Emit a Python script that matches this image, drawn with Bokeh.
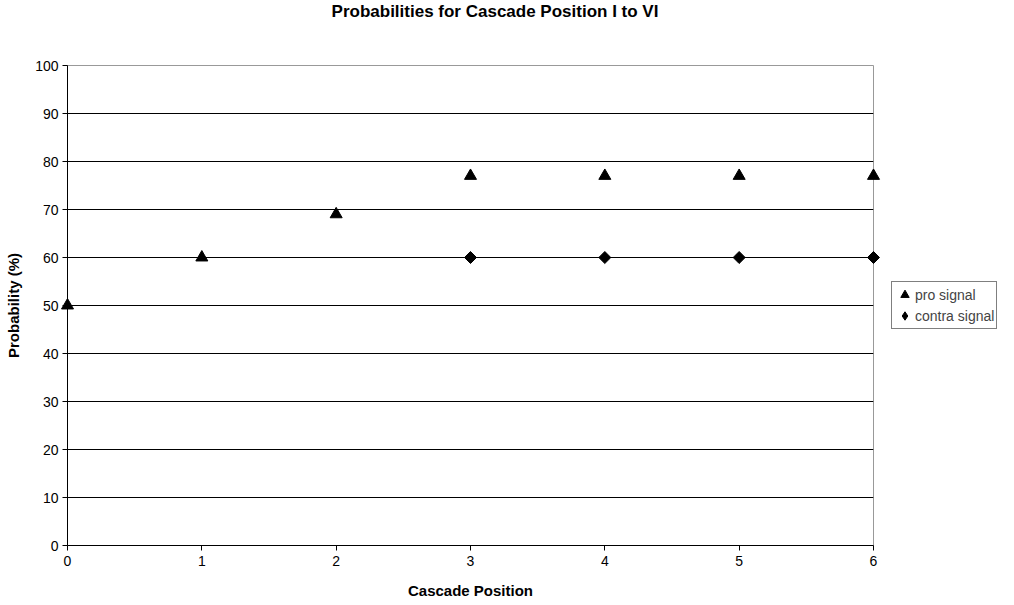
import math
from bokeh.plotting import figure
from bokeh.models import Range1d, FixedTicker, Legend, LegendItem, Div
from bokeh.layouts import column
from bokeh.embed import file_html
from bokeh.resources import INLINE

positions = [0, 1, 2, 3, 4, 5, 6]
pro_signal = [50, 60, 69, 77, 77, 77, 77]
contra_x = [3, 4, 5, 6]
contra_signal = [60, 60, 60, 60]
y_ticks = [0, 10, 20, 30, 40, 50, 60, 70, 80, 90, 100]
x_ticks = [0, 1, 2, 3, 4, 5, 6]
title_text = "Probabilities for Cascade Position I to VI"

FONT = "Liberation Sans"

title_div = Div(text=title_text, width=990, height=24, margin=0,
                styles={"font-family": FONT, "font-size": "17px", "font-weight": "bold",
                        "text-align": "center", "color": "black", "width": "990px",
                        "line-height": "24px"})

p = figure(frame_width=806, frame_height=480, output_backend="svg", toolbar_location=None,
           x_range=Range1d(0, 6), y_range=Range1d(0, 100), title=None,
           min_border_left=67, min_border_right=10, min_border_top=41, min_border_bottom=52)

p.outline_line_color = "#999999"
p.outline_line_width = 1

for ax in (p.xaxis[0], p.yaxis[0]):
    ax.axis_line_color = "black"
    ax.major_tick_line_color = "black"
    ax.major_tick_in = 0
    ax.major_tick_out = 5
    ax.minor_tick_line_color = None
    ax.major_label_text_font = FONT
    ax.major_label_text_font_size = "14px"
    ax.major_label_text_color = "black"
    ax.axis_label_text_font = FONT
    ax.axis_label_text_font_size = "15px"
    ax.axis_label_text_font_style = "bold"
    ax.axis_label_text_color = "black"

p.xaxis.ticker = FixedTicker(ticks=x_ticks)
p.yaxis.ticker = FixedTicker(ticks=y_ticks)
p.xaxis.axis_label = "Cascade Position"
p.yaxis.axis_label = "Probability (%)"
p.xaxis.axis_label_standoff = 13
p.yaxis.axis_label_standoff = 10
p.xaxis.major_label_standoff = 5
p.yaxis.major_label_standoff = 4

p.xgrid.grid_line_color = None
p.ygrid.ticker = FixedTicker(ticks=y_ticks[1:-1])
p.ygrid.grid_line_color = "black"
p.ygrid.grid_line_width = 1

r1 = p.scatter(positions, pro_signal, marker="triangle", size=12, color="black", level="overlay")
r2 = p.scatter(contra_x, contra_signal, marker="square", size=8.5, angle=math.pi / 4,
               color="black", level="overlay")
# legend key: a 1px diamond hidden under the first contra point, so the legend shows a diamond
r2_key = p.scatter(contra_x[:1], contra_signal[:1], marker="diamond", size=1, color="black")

legend = Legend(items=[LegendItem(label="pro signal", renderers=[r1]),
                       LegendItem(label="contra signal", renderers=[r2_key])],
                location="center_left", margin=18, padding=2, spacing=0,
                glyph_width=21, glyph_height=21, label_standoff=0,
                label_text_font=FONT, label_text_font_size="14px",
                border_line_color="black", border_line_width=1,
                background_fill_color="white", background_fill_alpha=1,
                label_height=21)
p.add_layout(legend, "right")

layout = column(title_div, p, spacing=0)
open("out.html", "w").write(file_html(layout, INLINE))
